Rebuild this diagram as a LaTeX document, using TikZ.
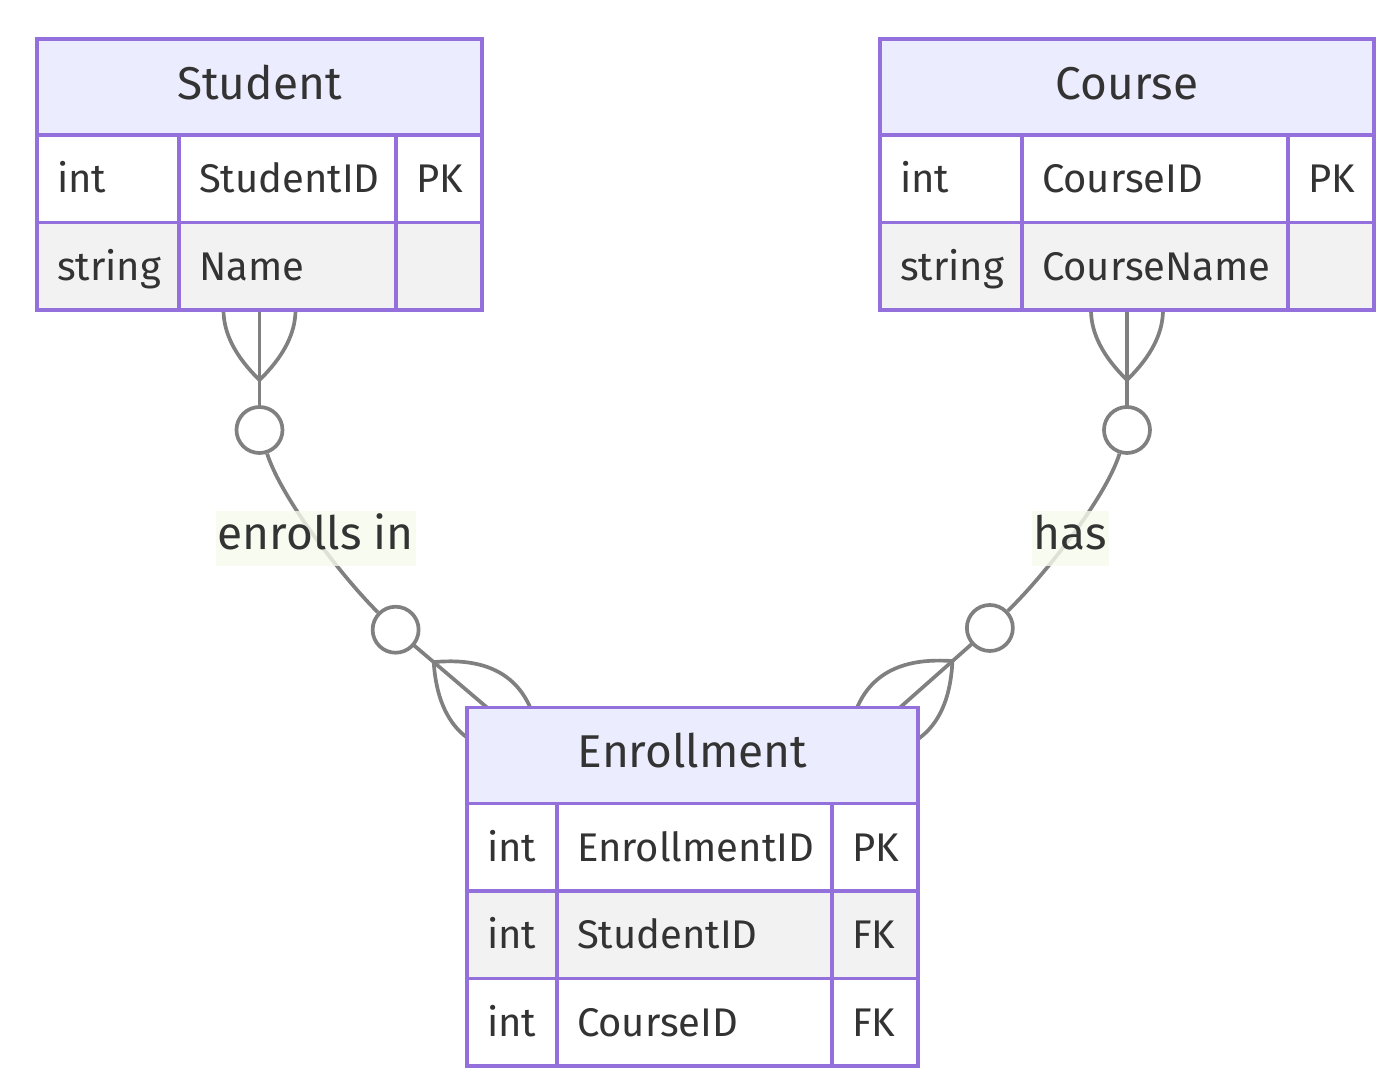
\documentclass[tikz,border=0pt]{standalone}
\usepackage{fontspec}
\setmainfont{Fira Sans}
\usetikzlibrary{positioning,backgrounds}

\definecolor{erline}{HTML}{9370DB}
\definecolor{erhead}{HTML}{ECECFF}
\definecolor{errow}{HTML}{F2F2F2}
\definecolor{ertext}{HTML}{333333}
\definecolor{relgray}{HTML}{808080}
\definecolor{lblbg}{HTML}{F6FBEC}

\tikzset{
  manyzero/.pic={
    \draw[rel] (0,0) -- (120,0);
    \draw[rel] (70,0) .. controls (23.3,48) and (-23.3,48) .. (-70,0)
      .. controls (-23.3,-48) and (23.3,-48) .. (70,0);
    \node[zero] (-z) at (120,0) {};
  }
}

\begin{document}
\begin{tikzpicture}[x=0.5pt,y=-0.5pt,
  entity/.style={draw=erline, fill=erhead, line width=1.6pt, outer sep=0pt,
    minimum height=48pt, text height=16.5pt, text depth=4pt, text=ertext,
    font=\fontsize{23}{27}\selectfont},
  attr/.style={draw=erline, line width=1.6pt, outer sep=0pt,
    inner xsep=10pt, inner ysep=0pt, minimum height=43.75pt,
    align=left, text height=13.8pt, text depth=0pt, text=ertext,
    font=\fontsize{20}{24}\selectfont},
  odd/.style={attr, fill=white},
  even/.style={attr, fill=errow},
  rel/.style={draw=relgray, line width=1.85pt},
  zero/.style={circle, draw=relgray, fill=white, line width=1.85pt,
    minimum size=23pt, inner sep=0pt},
  lbl/.style={fill=lblbg, fill opacity=0.8, text opacity=1, text=ertext,
    inner xsep=1pt, inner ysep=0pt, minimum height=27.5pt,
    text height=16pt, text depth=5pt, font=\fontsize{23}{27}\selectfont}]
\useasboundingbox (0,0) rectangle (1394,1090);

% Student entity
\node[entity, minimum width=222.5pt] (stu) at (259.5,87) {Student};
\node[odd, text width=51pt, below right=0pt of stu.south west] (s1a) {int};
\node[odd, text width=88.5pt, right=0pt of s1a] (s1b) {StudentID};
\node[odd, text width=23pt, right=0pt of s1b] (s1c) {PK};
\node[even, text width=51pt, below=0pt of s1a] (s2a) {string};
\node[even, text width=88.5pt, right=0pt of s2a] (s2b) {Name};
\node[even, text width=23pt, right=0pt of s2b] (s2c) {};

% Course entity
\node[entity, minimum width=247pt] (crs) at (1127,87) {Course};
\node[odd, text width=51pt, below right=0pt of crs.south west] (c1a) {int};
\node[odd, text width=113pt, right=0pt of c1a] (c1b) {CourseID};
\node[odd, text width=23pt, right=0pt of c1b] (c1c) {PK};
\node[even, text width=51pt, below=0pt of c1a] (c2a) {string};
\node[even, text width=113pt, right=0pt of c2a] (c2b) {CourseName};
\node[even, text width=23pt, right=0pt of c2b] (c2c) {};

% Enrollment entity
\node[entity, minimum width=225.5pt] (enr) at (692.5,755.5) {Enrollment};
\node[odd, text width=25pt, below right=0pt of enr.south west] (e1a) {int};
\node[odd, text width=117.5pt, right=0pt of e1a] (e1b) {EnrollmentID};
\node[odd, text width=23pt, right=0pt of e1b] (e1c) {PK};
\node[even, text width=25pt, below=0pt of e1a] (e2a) {int};
\node[even, text width=117.5pt, right=0pt of e2a] (e2b) {StudentID};
\node[even, text width=23pt, right=0pt of e2b] (e2c) {FK};
\node[odd, text width=25pt, below=0pt of e2a] (e3a) {int};
\node[odd, text width=117.5pt, right=0pt of e3a] (e3b) {CourseID};
\node[odd, text width=23pt, right=0pt of e3b] (e3c) {FK};

% Relationships
\begin{pgfonlayer}{background}
\pic[rotate=-90] (sz) at (stu |- s2a.south) {manyzero};
\pic[rotate=139.6] (ez1) at ([xshift=10pt]enr.north west) {manyzero};
\pic[rotate=-90] (cz) at (crs |- c2a.south) {manyzero};
\pic[rotate=41.5] (ez2) at ([xshift=-9pt]enr.north east) {manyzero};

\draw[rel] (sz-z) .. controls (282,500) and (345,580) .. (ez1-z)
  node[lbl, pos=0.5] (l1) {enrolls in};
\draw[rel] (cz-z) .. controls (1105,500) and (1040,580) .. (ez2-z)
  node[lbl, pos=0.5] (l2) {has};
\end{pgfonlayer}

\end{tikzpicture}
\end{document}
